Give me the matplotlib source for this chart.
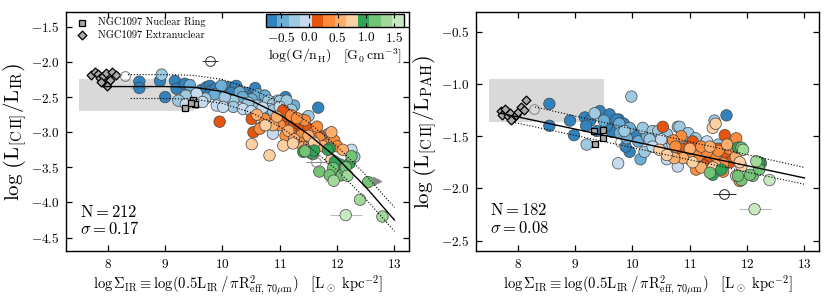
import matplotlib
matplotlib.use("Agg")
import matplotlib.pyplot as plt
from matplotlib.colors import ListedColormap, Normalize

plt.rcParams["font.family"] = "serif"
plt.rcParams["font.serif"] = ["cmr10", "DejaVu Serif"]
plt.rcParams["mathtext.fontset"] = "cm"
plt.rcParams["axes.formatter.use_mathtext"] = True

# colour bins for log(G/nH)
bin_colors = ["#3182bd", "#6baed6", "#9ecae1", "#c6dbef",
              "#e6550d", "#fd8d3c", "#fdae6b", "#fdd0a2",
              "#31a354", "#74c476", "#a1d99b", "#c7e9c0"]
g_min, g_max = -0.775, 1.675
cbar_ticks = [-0.5, 0.0, 0.5, 1.0, 1.5]

# ---- left panel: L[CII]/LIR ----
cii_ir_x = [8.55, 8.55, 8.91, 9.00, 9.17, 9.20, 9.34, 9.63, 9.72, 9.78, 9.80, 9.95, 10.07, 10.10,
            10.22, 10.24, 10.30, 10.42, 10.54, 10.57, 10.73, 11.10, 11.67, 9.88, 9.98, 10.15,
            9.43, 9.98, 10.30, 10.45, 10.60, 10.62, 10.74, 10.51, 10.35, 9.86, 10.85, 10.95, 11.25,
            8.94, 9.36, 9.23, 10.19, 10.04, 10.80, 10.97, 10.88, 11.00, 11.12, 10.83, 10.19, 10.88,
            11.03, 11.29, 11.44, 9.70, 10.60, 11.20, 11.50, 11.90, 12.30, 9.55, 10.45,
            9.36, 9.90, 10.01, 10.36, 11.00, 9.55, 10.70, 11.84, 11.81, 10.88, 11.30, 10.50, 9.65,
            11.15, 11.45, 12.25,
            9.95, 10.51, 10.54, 11.03, 11.06, 11.12, 11.35, 10.66, 11.25, 11.50, 11.70, 11.20, 11.40, 10.90,
            10.65, 10.73, 11.20, 11.44, 11.38, 11.61, 11.73, 11.55, 11.69, 11.87, 11.00, 11.30, 11.55,
            11.80, 11.95, 11.10, 11.65, 12.00, 11.35,
            10.88, 11.41, 10.60, 11.15, 11.50, 11.75, 11.90, 12.10, 11.25, 10.95,
            10.51, 11.06, 10.82, 11.23, 11.90, 11.60, 11.45, 10.75,
            11.87, 11.58, 11.41, 11.55, 11.60, 11.84, 12.22, 12.05, 12.03, 11.96,
            11.44, 12.25, 11.93, 11.69, 12.08, 11.87, 12.54, 12.15,
            12.18, 11.94, 12.40, 12.79,
            12.15]
cii_ir_y = [-2.28, -2.37, -2.27, -2.50, -2.27, -2.38, -2.31, -2.40, -2.36, -2.34, -2.41, -2.41, -2.39, -2.36,
            -2.37, -2.34, -2.42, -2.44, -2.45, -2.37, -2.48, -2.50, -2.65, -2.38, -2.42, -2.44,
            -2.33, -2.34, -2.43, -2.53, -2.55, -2.46, -2.48, -2.53, -2.50, -2.46, -2.57, -2.60, -2.62,
            -2.18, -2.48, -2.55, -2.55, -2.50, -2.55, -2.55, -2.60, -2.56, -2.55, -2.67, -2.64, -2.69,
            -2.71, -2.83, -2.81, -2.52, -2.62, -2.68, -2.77, -3.20, -3.35, -2.58, -2.58,
            -2.60, -2.62, -2.64, -2.67, -2.64, -2.45, -2.65, -3.03, -3.05, -3.02, -2.95, -2.70, -2.57,
            -2.80, -3.00, -3.25,
            -2.85, -2.81, -3.00, -2.81, -2.69, -2.93, -2.93, -2.94, -2.88, -2.95, -3.05, -3.00, -3.10, -2.85,
            -2.95, -2.81, -2.76, -2.83, -3.04, -2.99, -3.11, -3.23, -3.08, -3.14, -2.90, -2.80, -3.10,
            -3.18, -3.12, -3.05, -2.92, -3.20, -3.15,
            -2.90, -3.21, -2.75, -2.98, -3.05, -3.20, -3.00, -3.25, -3.10, -2.78,
            -3.17, -3.19, -3.33, -3.16, -3.39, -3.15, -3.25, -2.90,
            -3.23, -3.31, -3.28, -3.30, -3.26, -3.25, -3.44, -3.46, -3.59, -3.42,
            -3.27, -3.34, -3.51, -3.56, -3.61, -3.61, -3.71, -3.50,
            -3.62, -3.69, -3.96, -4.20,
            -4.18]
cii_ir_g = [-0.6] * 26 + [-0.4] * 13 + [-0.2] * 24 + [0.0] * 16 + [0.2] * 14 + [0.4] * 19 + \
           [0.6] * 10 + [0.8] * 8 + [1.0] * 10 + [1.2] * 8 + [1.4] * 4 + [1.6] * 1

ring_ir_x = [9.34, 9.48, 9.52, 9.45]
ring_ir_y = [-2.65, -2.54, -2.60, -2.58]
extra_ir_x = [7.70, 7.77, 7.82, 7.86, 7.91, 7.96, 8.00, 8.03, 8.08, 8.15, 7.99, 7.88]
extra_ir_y = [-2.18, -2.14, -2.17, -2.23, -2.20, -2.16, -2.29, -2.25, -2.14, -2.19, -2.34, -2.28]

# fit and scatter lines
fit_ir_x = [7.9, 9.0, 9.5, 10.0, 10.5, 11.0, 11.5, 12.0, 12.5, 13.0]
fit_ir_y = [-2.35, -2.35, -2.36, -2.42, -2.55, -2.75, -3.03, -3.37, -3.78, -4.25]
up_ir_x = [8.35, 9.0, 9.5, 10.0, 10.5, 11.0, 11.5, 12.0, 12.5, 13.0]
up_ir_y = [-2.18, -2.18, -2.19, -2.25, -2.38, -2.58, -2.86, -3.20, -3.61, -4.07]
lo_ir_x = [8.4, 9.0, 9.5, 10.0, 10.5, 11.0, 11.5, 12.0, 12.5, 13.0]
lo_ir_y = [-2.52, -2.52, -2.53, -2.59, -2.72, -2.92, -3.20, -3.54, -3.95, -4.41]

# ---- right panel: L[CII]/LPAH ----
cii_pah_x = [8.55, 8.55, 8.91, 8.98, 9.17, 9.26, 9.19, 9.43, 9.38, 9.60, 9.76, 9.74, 9.65, 9.98,
             9.95, 11.64, 9.72, 9.85, 10.05, 9.55, 9.88,
             9.77, 9.78, 9.95, 10.14, 10.10, 10.25, 9.90, 10.40, 9.50,
             9.34, 9.20, 9.98, 10.18, 10.35, 10.79, 10.99, 10.82, 10.97, 11.43, 11.29, 11.26, 10.30,
             10.65, 10.21, 10.45, 9.86, 10.60, 10.90, 11.10, 10.55, 11.50,
             9.75, 10.77, 10.79, 10.50, 10.70, 10.90, 10.35, 11.15, 11.30, 10.60, 11.42,
             10.53, 11.61, 10.97, 10.94, 11.34, 11.17, 11.64, 11.05, 11.50, 11.25, 10.85, 11.70,
             10.85, 10.71, 11.11, 11.58, 11.44, 11.81, 11.14, 11.58, 11.50, 11.87, 11.00, 11.30, 11.70,
             11.20, 10.75,
             10.88, 10.73, 11.35, 11.65, 11.00, 11.45, 11.20, 11.80,
             11.40, 11.45, 10.47, 11.40, 11.90, 11.81, 11.87, 10.60, 11.05,
             11.87, 11.84, 11.40, 12.24, 12.21, 11.55,
             11.90, 11.90, 12.10, 12.21, 11.84, 11.35, 12.05,
             12.16, 11.93,
             12.39, 12.13]
cii_pah_y = [-1.19, -1.40, -1.35, -1.49, -1.32, -1.35, -1.40, -1.26, -1.45, -1.29, -1.34, -1.42, -1.46, -1.45,
             -1.65, -1.30, -1.34, -1.38, -1.50, -1.40, -1.60,
             -1.38, -1.47, -1.42, -1.72, -1.55, -1.50, -1.52, -1.48, -1.35,
             -1.28, -1.58, -1.12, -1.42, -1.45, -1.41, -1.49, -1.41, -1.47, -1.35, -1.57, -1.60, -1.53,
             -1.53, -1.65, -1.45, -1.45, -1.48, -1.55, -1.52, -1.62, -1.58,
             -1.76, -1.68, -1.79, -1.53, -1.58, -1.65, -1.60, -1.62, -1.55, -1.72, -1.62,
             -1.41, -1.49, -1.60, -1.68, -1.72, -1.72, -1.68, -1.55, -1.62, -1.78, -1.62, -1.75,
             -1.50, -1.54, -1.82, -1.76, -1.68, -1.52, -1.69, -1.84, -1.64, -1.93, -1.72, -1.65, -1.62,
             -1.60, -1.60,
             -1.71, -1.71, -1.60, -1.58, -1.62, -1.78, -1.80, -1.70,
             -1.42, -1.38, -1.63, -1.80, -1.79, -1.88, -1.75, -1.68, -1.75,
             -1.61, -1.61, -1.87, -1.76, -1.75, -1.82,
             -1.61, -1.92, -1.88, -1.82, -1.88, -1.85, -1.87,
             -1.74, -1.63,
             -1.92, -2.20]
cii_pah_g = [-0.6] * 21 + [-0.4] * 9 + [-0.2] * 22 + [0.0] * 11 + [0.2] * 12 + [0.4] * 15 + \
            [0.6] * 8 + [0.8] * 9 + [1.0] * 6 + [1.2] * 7 + [1.4] * 2 + [1.6] * 2

ring_pah_x = [9.33, 9.48, 9.48, 9.34]
ring_pah_y = [-1.45, -1.44, -1.52, -1.57]
extra_pah_x = [7.70, 7.73, 7.78, 7.82, 7.86, 7.92, 7.96, 8.00, 8.06, 8.10, 8.14, 7.88]
extra_pah_y = [-1.26, -1.30, -1.24, -1.31, -1.28, -1.33, -1.30, -1.27, -1.22, -1.25, -1.15, -1.34]

fit_pah_x = [7.7, 13.0]
fit_pah_y = [-1.28, -1.90]
up_pah_x = [8.3, 13.0]
up_pah_y = [-1.22, -1.80]
lo_pah_x = [7.95, 13.0]
lo_pah_y = [-1.37, -1.96]

cmap = ListedColormap(bin_colors)
norm = Normalize(vmin=g_min, vmax=g_max)

fig = plt.figure(figsize=(8.3, 3.02), dpi=100)
ax1 = fig.add_axes([0.0795, 0.169, 0.413, 0.791])
ax2 = fig.add_axes([0.5735, 0.169, 0.413, 0.791])

# shaded boxes
ax1.fill_between([7.5, 9.5], -2.70, -2.24, color="#d9d9d9", lw=0, zorder=0)
ax2.fill_between([7.5, 9.5], -1.36, -0.95, color="#d9d9d9", lw=0, zorder=0)

# faint error bars on a few points
ax1.errorbar([8.55, 11.94, 12.40, 12.15, 12.79], [-2.37, -3.69, -3.96, -4.18, -4.20],
             xerr=[0.17, 0.15, 0.10, 0.28, 0.12], yerr=[0.0, 0.03, 0.0, 0.03, 0.03],
             fmt="none", ecolor="#bbbbbb", elinewidth=0.8, zorder=1)
ax2.errorbar([12.13, 10.14, 9.75], [-2.20, -1.72, -1.76], xerr=[0.28, 0.0, 0.0], yerr=[0.05, 0.07, 0.05],
             fmt="none", ecolor="#bbbbbb", elinewidth=0.8, zorder=1)

sc = ax1.scatter(cii_ir_x, cii_ir_y, c=cii_ir_g, cmap=cmap, norm=norm, s=68,
                 edgecolors="#444444", linewidths=0.5, zorder=2)
ax2.scatter(cii_pah_x, cii_pah_y, c=cii_pah_g, cmap=cmap, norm=norm, s=68,
            edgecolors="#444444", linewidths=0.5, zorder=2)

# NGC1097 regions
for ax, rx, ry, ex, ey in [(ax1, ring_ir_x, ring_ir_y, extra_ir_x, extra_ir_y),
                           (ax2, ring_pah_x, ring_pah_y, extra_pah_x, extra_pah_y)]:
    ax.scatter(ex, ey, marker="D", s=20, c="#aaaaaa", edgecolors="black", linewidths=0.9, zorder=3,
               label="NGC1097 Extranuclear")
    ax.scatter(rx, ry, marker="s", s=17, c="#aaaaaa", edgecolors="black", linewidths=0.9, zorder=3,
               label="NGC1097 Nuclear Ring")

# open circles (no colour information)
ax1.errorbar([9.78], [-1.99], xerr=[0.14], fmt="o", ms=7, mfc="none", mec="#333333", ecolor="#333333",
             elinewidth=0.7, mew=0.7, zorder=3)
ax1.errorbar([11.63], [-3.43], xerr=[0.17], fmt="o", ms=7, mfc="none", mec="#888888", ecolor="#888888",
             elinewidth=0.7, mew=0.7, zorder=3)
ax1.plot([8.30], [-2.20], "o", ms=7, mfc="none", mec="#777777", mew=0.7, ls="none", zorder=3)
ax2.errorbar([11.60], [-2.05], xerr=[0.20], fmt="o", ms=7, mfc="none", mec="#222222", ecolor="#222222",
             elinewidth=0.7, mew=0.7, zorder=3)
ax2.plot([8.28, 9.78], [-1.24, -1.56], "o", ms=7, mfc="none", mec="#888888", mew=0.7, ls="none", zorder=3)

# limit arrow
ax1.plot([12.56, 12.70], [-3.70, -3.70], color="#888888", lw=0.7, ls=":", zorder=3)
ax1.plot([12.70], [-3.70], marker=">", ms=6, color="#888888", ls="none", zorder=3)

# fits
ax1.plot(fit_ir_x, fit_ir_y, color="black", lw=1.0, zorder=4)
ax1.plot(up_ir_x, up_ir_y, color="black", lw=0.8, ls=":", zorder=4)
ax1.plot(lo_ir_x, lo_ir_y, color="black", lw=0.8, ls=":", zorder=4)
ax2.plot(fit_pah_x, fit_pah_y, color="black", lw=1.0, zorder=4)
ax2.plot(up_pah_x, up_pah_y, color="black", lw=0.8, ls=":", zorder=4)
ax2.plot(lo_pah_x, lo_pah_y, color="black", lw=0.8, ls=":", zorder=4)

xlabel = r"$\log\Sigma_{\rm IR} \equiv \log(0.5{\rm L_{IR}}\,/\,\pi {\rm R^2_{eff,\,70\mu m}})\quad [{\rm L_\odot\ kpc^{-2}}]$"
for ax in (ax1, ax2):
    ax.set_xlim(7.27, 13.25)
    ax.set_xticks([8, 9, 10, 11, 12, 13])
    ax.set_xlabel(xlabel, fontsize=10.5, labelpad=2)
    ax.tick_params(direction="in", top=True, right=True, length=4, width=0.9, labelsize=9.5, pad=5)
    for sp in ax.spines.values():
        sp.set_linewidth(1.0)

ax1.set_ylim(-4.69, -1.29)
ax1.set_yticks([-4.5, -4.0, -3.5, -3.0, -2.5, -2.0, -1.5])
ax1.set_ylabel(r"$\log\,\left({\rm L_{[C\,II]}}/{\rm L_{IR}}\right)$", fontsize=15, labelpad=1)
ax2.set_ylim(-2.6, -0.31)
ax2.set_yticks([-2.5, -2.0, -1.5, -1.0, -0.5])
ax2.set_ylabel(r"$\log\,\left({\rm L_{[C\,II]}}/{\rm L_{PAH}}\right)$", fontsize=15, labelpad=1)

ax1.text(0.04, 0.165, r"$\rm N = 212$", transform=ax1.transAxes, fontsize=12, va="center")
ax1.text(0.04, 0.095, r"$\sigma = 0.17$", transform=ax1.transAxes, fontsize=12, va="center")
ax2.text(0.04, 0.172, r"$\rm N = 182$", transform=ax2.transAxes, fontsize=12, va="center")
ax2.text(0.04, 0.097, r"$\sigma = 0.08$", transform=ax2.transAxes, fontsize=12, va="center")

handles, labels = ax1.get_legend_handles_labels()
ax1.legend(handles[::-1], labels[::-1], loc="upper left", frameon=False, fontsize=7.5,
           handletextpad=0.6, borderaxespad=0.3, labelspacing=0.3, borderpad=0.2)

# colour bar inside the left panel
cax = ax1.inset_axes([0.583, 0.937, 0.402, 0.055])
cb = fig.colorbar(sc, cax=cax, orientation="horizontal", ticks=cbar_ticks)
cb.outline.set_linewidth(1.0)
cb.ax.tick_params(direction="in", top=True, bottom=True, length=3, width=0.8, labelsize=9.5, pad=3)
cb.set_label(r"$\log({\rm G/n_H})\quad[{\rm G_0\,cm^{-3}}]$", fontsize=10, labelpad=1)

plt.savefig("out.png", dpi=100)
